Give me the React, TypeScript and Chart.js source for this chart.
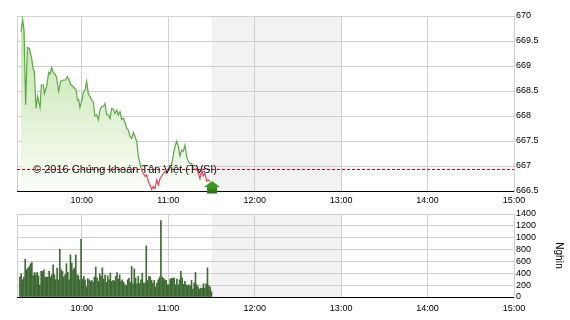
import React, { useEffect, useRef } from 'react';
import { Chart, registerables } from 'chart.js';

Chart.register(...registerables);

// ---------- data ----------
const SESSION_START = '9:15';
const SESSION_END = '15:00';
const BREAK_START = '11:30';
const BREAK_END = '13:00';
const REF_PRICE = 666.94;

const timeTicks = ['10:00', '11:00', '12:00', '13:00', '14:00', '15:00'];
const priceTicks = [666.5, 667, 667.5, 668, 668.5, 669, 669.5, 670];
const volumeTicks = [0, 200, 400, 600, 800, 1000, 1200, 1400];

// minutes after 9:00
const priceMinutes = [
  17.8, 18.9, 19.9, 21.0, 22.2, 23.6, 25.2, 26.3, 27.0, 28.2, 29.3, 31.0, 31.9, 33.3, 34.0, 35.6,
  37.0, 37.9, 39.1, 40.2, 41.4, 42.5, 43.9, 45.3, 47.2, 48.6, 49.9, 51.3, 52.3, 53.6, 55.0, 56.0,
  56.9, 57.8, 58.7, 60.1, 61.0, 62.2, 63.4, 64.5, 65.7, 66.8, 68.0, 69.1, 70.3, 71.5, 72.6, 73.8,
  74.9, 76.1, 77.2, 78.4, 79.6, 80.7, 81.9, 83.0, 84.2, 85.3, 86.5, 87.7, 88.8, 90.0, 91.1, 92.3,
  93.4, 94.6, 95.8, 96.9, 98.1, 99.2, 100.4, 101.5, 102.7, 103.9, 105.0, 106.2, 107.3, 108.5,
  109.6, 110.8, 112.0, 113.1, 114.3, 115.4, 116.6, 117.7, 118.9, 120.0, 121.2, 122.4, 123.5,
  124.7, 125.8, 127.0, 128.1, 129.3, 130.5, 131.6, 132.8, 133.9, 135.1, 136.2, 137.4, 138.6,
  139.7, 140.9, 142.0, 143.2, 144.3, 145.5, 146.7, 147.8, 149.0,
];
const prices = [
  669.69, 669.93, 669.72, 668.22, 669.37, 669.35, 669.15, 668.92, 668.9, 668.15, 668.4, 668.17, 668.62, 668.62, 668.45, 668.6,
  668.87, 668.84, 668.97, 668.87, 668.84, 668.77, 668.49, 668.69, 668.72, 668.72, 668.79, 668.71, 668.62, 668.6, 668.55, 668.53,
  668.32, 668.33, 668.17, 668.32, 668.47, 668.52, 668.69, 668.44, 668.39, 668.32, 668.27, 668.0, 668.02, 667.92, 668.12, 668.19,
  668.19, 668.25, 668.02, 668.02, 667.95, 668.15, 668.13, 668.05, 668.12, 668.02, 668.09, 667.93, 667.95, 667.87, 667.75, 667.72,
  667.59, 667.55, 667.67, 667.59, 667.49, 667.19, 667.05, 666.92, 666.85, 666.79, 666.82, 666.69, 666.62, 666.53,
  666.59, 666.55, 666.72, 666.62, 666.75, 666.8, 666.85, 666.89, 666.85, 666.92, 666.95, 667.05, 667.22,
  667.39, 667.49, 667.39, 667.2, 667.32, 667.29, 667.42, 667.19, 667.09, 667.05, 667.05, 666.95, 666.92,
  666.95, 666.85, 666.75, 666.92, 666.8, 666.85, 666.7, 666.72, 666.69,
];

const VOLUME_FIRST = '9:17';
const VOLUME_LAST = '11:30';
const volumes = [
  336, 392, 290, 336, 638, 459, 482, 515, 560, 582,
  358, 414, 375, 414, 358, 202, 431, 431, 459, 336,
  336, 336, 431, 336, 375, 543, 375, 290, 487, 290,
  806, 459, 431, 336, 375, 560, 414, 290, 711, 571,
  459, 487, 711, 375, 358, 290, 974, 302, 347, 290,
  168, 308, 290, 263, 280, 246, 336, 504, 319, 263,
  392, 347, 493, 302, 370, 246, 358, 290, 403, 263,
  280, 269, 347, 414, 302, 375, 269, 290, 246, 207,
  190, 290, 319, 246, 515, 224, 476, 319, 224, 347,
  224, 290, 403, 235, 235, 862, 280, 347, 336, 280,
  235, 280, 168, 235, 290, 336, 1288, 336, 314, 290,
  280, 207, 207, 302, 314, 319, 319, 207, 302, 202,
  290, 431, 319, 213, 263, 207, 190, 207, 190, 280,
  134, 235, 414, 207, 168, 134, 151, 151, 224, 151,
  224, 493, 190, 168, 90,
];

const COPYRIGHT = '© 2016 Chứng khoán Tân Việt (TVSI)';
const VOLUME_UNIT = 'Nghìn';

// ---------- styles ----------
const FONT = 'Arial, "Liberation Sans", sans-serif';
const GREEN = '#5aaa45';
const RED = '#e0455c';
const BAR = '#3d6a32';
const GRID = '#d0d0d0';

const toMin = (s: string) => {
  const [h, m] = s.split(':').map(Number);
  return h * 60 + m;
};

const shadePlugin = {
  id: 'shade',
  beforeDraw(chart: any) {
    const { ctx, chartArea, scales } = chart;
    const x0 = scales.x.getPixelForValue(toMin(BREAK_START));
    const x1 = scales.x.getPixelForValue(toMin(BREAK_END));
    ctx.save();
    ctx.fillStyle = '#ffffff';
    ctx.fillRect(0, 0, chart.width, chart.height);
    ctx.fillStyle = '#f2f2f2';
    ctx.fillRect(x0, chartArea.top, x1 - x0, chartArea.bottom - chartArea.top);
    ctx.restore();
  },
};

const xScale = (height: number, pad: number) => ({
  type: 'linear',
  offset: false,
  min: toMin(SESSION_START),
  max: toMin(SESSION_END),
  afterBuildTicks: (s: any) => {
    s.ticks = [SESSION_START, ...timeTicks].map((t) => ({ value: toMin(t) }));
  },
  afterFit: (s: any) => {
    s.height = height;
  },
  ticks: {
    autoSkip: false,
    maxRotation: 0,
    padding: pad,
    color: '#000',
    font: { family: FONT, size: 9 },
    callback: (v: number) => timeTicks.find((t) => toMin(t) === v) ?? '',
  },
  grid: { color: GRID, drawTicks: false, offset: false },
  border: { color: '#000', width: 1 },
});

const yScale = (tickValues: number[]) => ({
  position: 'right',
  min: tickValues[0],
  max: tickValues[tickValues.length - 1],
  afterBuildTicks: (s: any) => {
    s.ticks = tickValues.map((v) => ({ value: v }));
  },
  afterFit: (s: any) => {
    s.width = 56;
  },
  ticks: {
    autoSkip: false,
    padding: 2,
    color: '#000',
    font: { family: FONT, size: 9 },
    callback: (v: number) => String(v),
  },
  grid: {
    drawTicks: false,
    color: (c: any) => (c.tick && c.tick.value === tickValues[0] ? 'rgba(0,0,0,0)' : GRID),
  },
  border: { color: GRID },
});

const priceOverlay = {
  id: 'priceOverlay',
  afterDatasetsDraw(chart: any) {
    const { ctx, chartArea, scales } = chart;
    const yRef = Math.round(scales.y.getPixelForValue(REF_PRICE)) + 0.5;
    ctx.save();
    // reference line
    ctx.strokeStyle = '#e00000';
    ctx.lineWidth = 1;
    ctx.setLineDash([3, 2]);
    ctx.beginPath();
    ctx.moveTo(chartArea.left, yRef);
    ctx.lineTo(chartArea.right, yRef);
    ctx.stroke();
    ctx.setLineDash([]);
    // copyright text
    ctx.fillStyle = '#111';
    ctx.font = `11px ${FONT}`;
    ctx.textAlign = 'left';
    ctx.textBaseline = 'middle';
    ctx.fillText(COPYRIGHT, chartArea.left + 16, yRef);
    // current arrow
    const xLast = scales.x.getPixelForValue(540 + priceMinutes[priceMinutes.length - 1]) + 2;
    const base = chartArea.bottom - 4;
    ctx.fillStyle = '#3c9a1e';
    ctx.beginPath();
    ctx.moveTo(xLast - 8, base);
    ctx.lineTo(xLast, base - 6);
    ctx.lineTo(xLast + 8, base);
    ctx.closePath();
    ctx.fill();
    const g = ctx.createLinearGradient(0, base, 0, base + 7);
    g.addColorStop(0, '#3c9a1e');
    g.addColorStop(1, '#1d6610');
    ctx.fillStyle = g;
    ctx.fillRect(xLast - 5, base - 0.5, 10, 7);
    ctx.restore();
  },
};

const volumeOverlay = {
  id: 'volumeOverlay',
  afterDraw(chart: any) {
    const { ctx, chartArea } = chart;
    ctx.save();
    ctx.translate(559, (chartArea.top + chartArea.bottom) / 2);
    ctx.rotate(Math.PI / 2);
    ctx.fillStyle = '#000';
    ctx.font = `10px ${FONT}`;
    ctx.textAlign = 'center';
    ctx.textBaseline = 'middle';
    ctx.fillText(VOLUME_UNIT, 0, 0);
    ctx.restore();
  },
};

export default function App() {
  const topRef = useRef<HTMLCanvasElement>(null);
  const botRef = useRef<HTMLCanvasElement>(null);

  useEffect(() => {
    const priceData = prices.map((p, i) => ({ x: 540 + priceMinutes[i], y: p }));
    const top = new Chart(topRef.current as HTMLCanvasElement, {
      type: 'line',
      data: {
        datasets: [
          {
            data: priceData,
            borderColor: GREEN,
            borderWidth: 1.2,
            pointRadius: 0,
            tension: 0,
            fill: 'start',
            backgroundColor: (c: any) => {
              const ca = c.chart.chartArea;
              if (!ca) return 'rgba(200,230,180,0.5)';
              const g = c.chart.ctx.createLinearGradient(0, ca.top, 0, ca.bottom);
              g.addColorStop(0, '#bde1a2');
              g.addColorStop(1, '#fafdf8');
              return g;
            },
            segment: {
              borderColor: (c: any) =>
                (c.p0.parsed.y + c.p1.parsed.y) / 2 < REF_PRICE ? RED : GREEN,
            },
          } as any,
        ],
      },
      options: {
        responsive: false,
        animation: false,
        events: [],
        layout: { padding: { left: 17, top: 16, right: 0, bottom: 0 } },
        plugins: { legend: { display: false }, tooltip: { enabled: false } },
        scales: {
          x: xScale(14, 4) as any,
          y: yScale(priceTicks) as any,
        },
      },
      plugins: [shadePlugin, priceOverlay],
    });

    const vStart = toMin(VOLUME_FIRST);
    const vStep = (toMin(VOLUME_LAST) - vStart) / (volumes.length - 1);
    const volData = volumes.map((v, i) => ({ x: vStart + i * vStep, y: v }));
    const bot = new Chart(botRef.current as HTMLCanvasElement, {
      type: 'bar',
      data: {
        datasets: [
          {
            data: volData,
            backgroundColor: BAR,
            barThickness: 1,
            borderWidth: 0,
          } as any,
        ],
      },
      options: {
        responsive: false,
        animation: false,
        events: [],
        layout: { padding: { left: 17, top: 9, right: 0, bottom: 0 } },
        plugins: { legend: { display: false }, tooltip: { enabled: false } },
        scales: {
          x: xScale(23, 6) as any,
          y: yScale(volumeTicks) as any,
        },
      },
      plugins: [shadePlugin, volumeOverlay],
    });

    return () => {
      top.destroy();
      bot.destroy();
    };
  }, []);

  return (
    <div style={{ position: 'absolute', left: 0, top: 0, width: 570, height: 320, background: '#fff' }}>
      <canvas ref={topRef} width={570} height={205} style={{ position: 'absolute', left: 0, top: 0 }} />
      <canvas ref={botRef} width={570} height={115} style={{ position: 'absolute', left: 0, top: 205 }} />
    </div>
  );
}
